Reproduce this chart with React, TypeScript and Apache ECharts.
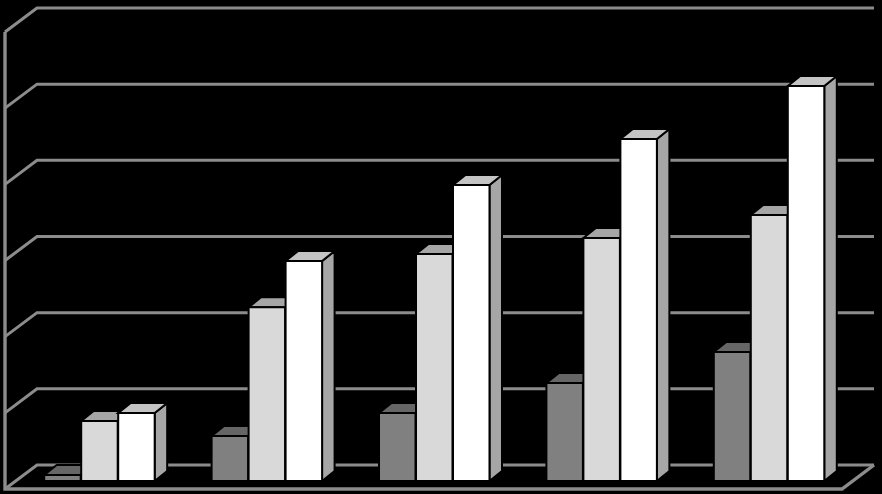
import React, { useEffect, useRef } from "react";
import * as echarts from "echarts";

const categories = ["1", "2", "3", "4", "5"];
const yTicks = [0, 50, 100, 150, 200, 250, 300];
const seriesA = [3.9, 29.5, 44.6, 64.3, 84.7];
const seriesB = [39.4, 114, 149, 159.5, 174.6];
const seriesC = [44.6, 144.4, 194.3, 224.5, 259.3];

const palettes = [
  { front: "#808080", top: "#666666", side: "#5a5a5a" },
  { front: "#d9d9d9", top: "#a6a6a6", side: "#a0a0a0" },
  { front: "#ffffff", top: "#c4c4c4", side: "#a6a6a6" },
];
const wallColor = "#8c8c8c";

function barItem(seriesIndex: number) {
  return (_params: any, api: any) => {
    const idx = api.value(0);
    const val = api.value(1);
    const top = api.coord([idx, val]);
    const base = api.coord([idx, 0]);
    const band = api.size([1, 0])[0];
    const step = band * 0.221;
    const w = band * 0.218;
    const x0 = top[0] + (seriesIndex - 1.5) * step;
    const x1 = x0 + w;
    const yT = top[1];
    const yB = base[1];
    const dx = 12.5;
    const dy = -10;
    const c = palettes[seriesIndex];
    const edge = { stroke: "#000000", lineWidth: 2, lineJoin: "miter" };
    return {
      type: "group",
      children: [
        {
          type: "polygon",
          shape: { points: [[x1, yT], [x1 + dx, yT + dy], [x1 + dx, yB + dy], [x1, yB]] },
          style: { fill: c.side, ...edge },
        },
        {
          type: "polygon",
          shape: { points: [[x0, yT], [x0 + dx, yT + dy], [x1 + dx, yT + dy], [x1, yT]] },
          style: { fill: c.top, ...edge },
        },
        {
          type: "polygon",
          shape: { points: [[x0, yT], [x1, yT], [x1, yB], [x0, yB]] },
          style: { fill: c.front, ...edge },
        },
      ],
    };
  };
}

function wallItem(params: any, api: any) {
  const v = api.value(1);
  const y = api.coord([0, v])[1];
  const left = params.coordSys.x;
  const right = left + params.coordSys.width;
  const backY = y - 16;
  const frontY = y + 8;
  const backL = left + 21;
  const backR = right + 21;
  const frontL = left - 11;
  const frontR = right - 11;
  const line = { stroke: wallColor, lineWidth: 3, fill: "none", lineJoin: "miter" };
  const children: any[] = [
    {
      type: "polyline",
      shape: { points: [[frontL, frontY], [backL, backY], [backR, backY]] },
      style: line,
    },
  ];
  if (v === 0) {
    const topY = api.coord([0, yTicks[yTicks.length - 1]])[1] + 8;
    children.push({
      type: "polyline",
      shape: { points: [[frontL, topY], [frontL, frontY], [frontR, frontY], [backR, backY]] },
      style: { ...line, lineWidth: 3.4 },
    });
  }
  return { type: "group", children };
}

export default function App() {
  const ref = useRef<HTMLDivElement>(null);
  useEffect(() => {
    document.body.style.margin = "0";
    document.body.style.background = "#000";
    const chart = echarts.init(ref.current!, undefined, { renderer: "svg" });
    const seriesValues = [seriesA, seriesB, seriesC];
    chart.setOption({
      animation: false,
      backgroundColor: "#000000",
      grid: { left: 16, top: 24, width: 837, height: 457 },
      xAxis: { type: "category", data: categories, show: false },
      yAxis: { type: "value", min: 0, max: 300, interval: 50, show: false },
      series: [
        {
          type: "custom",
          name: "walls",
          clip: false,
          silent: true,
          renderItem: wallItem,
          encode: { x: 0, y: 1 },
          data: yTicks.map((t) => [0, t]),
        },
        ...seriesValues.map((vals, i) => ({
          type: "custom",
          name: `Series ${i + 1}`,
          clip: false,
          silent: true,
          renderItem: barItem(i),
          encode: { x: 0, y: 1 },
          data: vals.map((v, k) => [k, v]),
        })),
      ],
    });
    return () => chart.dispose();
  }, []);
  return (
    <div
      ref={ref}
      style={{ position: "absolute", left: 0, top: 0, width: 882, height: 494 }}
    />
  );
}
